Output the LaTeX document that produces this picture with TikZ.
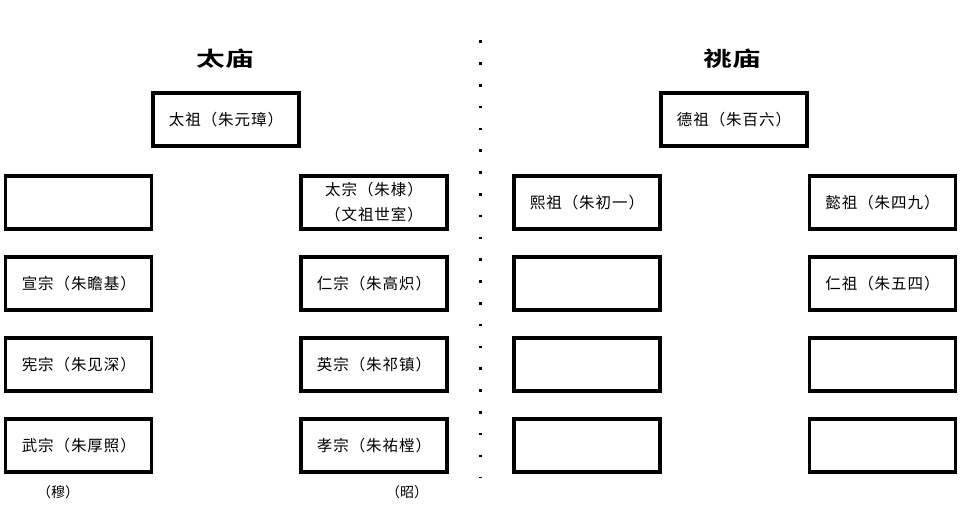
\documentclass[tikz,border=0pt]{standalone}
\usepackage{fontspec}
\newfontfamily\cjk[LetterSpace=6]{Noto Sans CJK SC}
\newfontfamily\cjks{Noto Sans CJK SC}
\newfontfamily\cjkb{Noto Sans CJK SC Bold}
\begin{document}
\begin{tikzpicture}[x=1pt,y=-1pt,
  box/.style={draw=black,line width=3.2pt,minimum width=146pt,minimum height=53pt,inner sep=0pt,
    font=\cjk\fontsize{15.5}{25}\selectfont,align=center},
  ttl/.style={font=\cjkb\fontsize{20.5}{20.5}\selectfont,inner sep=0pt},
  side/.style={font=\cjks\fontsize{14}{14}\selectfont,inner sep=0pt},
  dotm/.style={fill=black,inner sep=0pt,minimum size=2.6pt}]
\useasboundingbox[fill=white] (0,0) rectangle (960,514);
% titles
\node[ttl] (t1) at (225,58.5) {\scalebox{1.4}[1]{太庙}};
\node[ttl] (t2) at (732.5,58.5) {\scalebox{1.4}[1]{祧庙}};
% top boxes
\node[box] (taizu) at (226,119.5) {太祖（朱元璋）};
\node[box] (dezu) at (734,119.5) {德祖（朱百六）};
% left temple
\node[box] (l1) at (78.8,202.5) {};
\node[box] (l2) at (78.8,283.5) {宣宗（朱瞻基）};
\node[box] (l3) at (78.8,364.5) {宪宗（朱见深）};
\node[box] (l4) at (78.8,445.5) {武宗（朱厚照）};
\node[box] (r1) at (374,202.5) {太宗（朱棣）\\（文祖世室）};
\node[box] (r2) at (374,283.5) {仁宗（朱高炽）};
\node[box] (r3) at (374,364.5) {英宗（朱祁镇）};
\node[box] (r4) at (374,445.5) {孝宗（朱祐樘）};
% right temple
\node[box] (a1) at (587,202.5) {熙祖（朱初一）};
\node[box] (a2) at (587,283.5) {};
\node[box] (a3) at (587,364.5) {};
\node[box] (a4) at (587,445.5) {};
\node[box] (b1) at (882.5,202.5) {懿祖（朱四九）};
\node[box] (b2) at (882.5,283.5) {仁祖（朱五四）};
\node[box] (b3) at (882.5,364.5) {};
\node[box] (b4) at (882.5,445.5) {};
% side labels
\node[side] (mu) at (58,492) {（穆）};
\node[side] (zhao) at (407,492) {（昭）};
% dotted divider
\foreach \i in {0,...,19} {
  \node[dotm] (d\i) at (480.7,41.7+21.8*\i) {};
}
\node[fill=black,inner sep=0pt,minimum width=2.6pt,minimum height=1.2pt] (d20) at (480.7,477.7) {};
\end{tikzpicture}
\end{document}
